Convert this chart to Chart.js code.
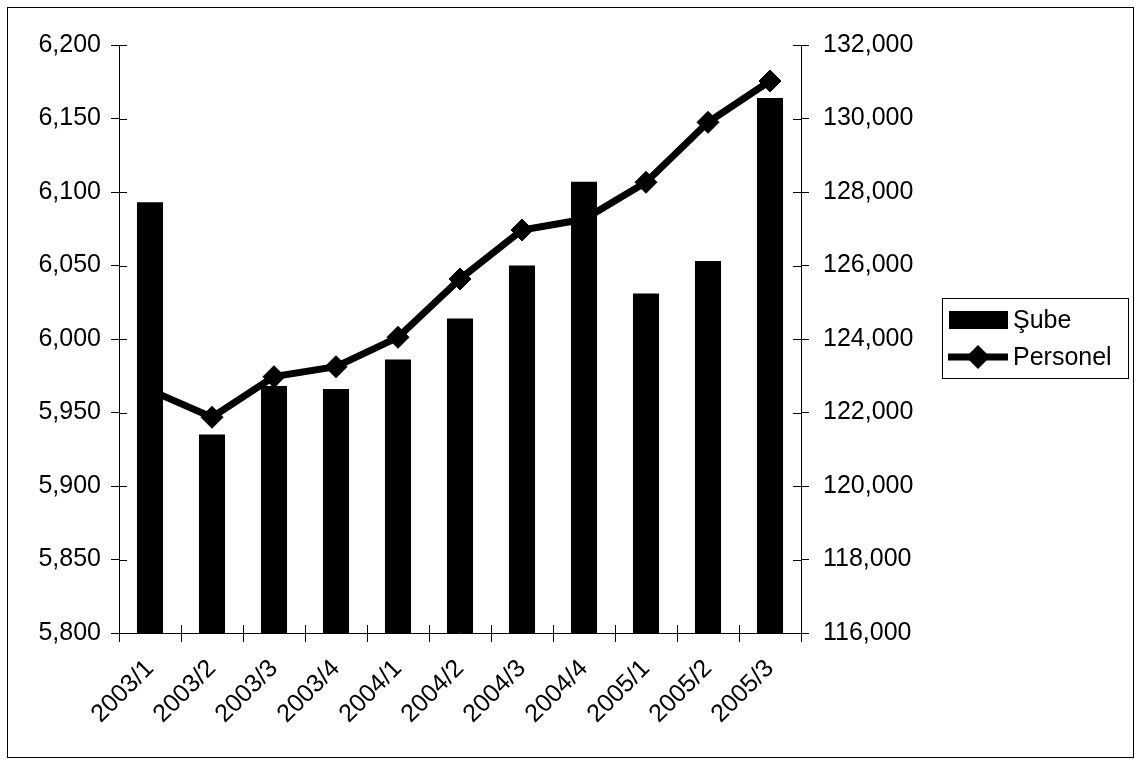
<!DOCTYPE html>
<html>
<head>
<meta charset="utf-8">
<script src="https://cdn.jsdelivr.net/npm/chart.js@4/dist/chart.umd.min.js"></script>
<style>
    body { margin: 0; background: #fff; }
    canvas { display: block; }
</style>
</head>
<body>
<canvas id="subeChart" width="1142" height="765"></canvas>
<script>
// Data
const quarters = ['2003/1', '2003/2', '2003/3', '2003/4', '2004/1', '2004/2', '2004/3', '2004/4', '2005/1', '2005/2', '2005/3'];
const subeCounts = [6093, 5935, 5968, 5966, 5986, 6014, 6050, 6107, 6031, 6053, 6164];
const personelCounts = [122610, 121870, 122975, 123246, 124046, 125633, 126966, 127257, 128264, 129896, 131020];
const legendLabels = ['Şube', 'Personel'];

const FONT = { family: "'Liberation Sans', Arial, sans-serif", size: 25 };

// frame, inner tick halves and the boxed legend
const extras = {
    id: 'extras',
    afterDraw(chart) {
        const ctx = chart.ctx;
        const area = chart.chartArea;
        ctx.save();
        ctx.strokeStyle = '#000';
        ctx.lineWidth = 1;

        // outer border
        ctx.strokeRect(7.5, 7.5, 1126, 750);

        // tick marks crossing into the plot
        ctx.beginPath();
        chart.scales.y.ticks.forEach((t, i) => {
            const py = Math.round(chart.scales.y.getPixelForTick(i)) + 0.5;
            ctx.moveTo(area.left, py); ctx.lineTo(area.left + 8, py);
        });
        chart.scales.y1.ticks.forEach((t, i) => {
            const py = Math.round(chart.scales.y1.getPixelForTick(i)) + 0.5;
            ctx.moveTo(area.right - 8, py); ctx.lineTo(area.right, py);
        });
        const step = (area.right - area.left) / quarters.length;
        for (let i = 0; i <= quarters.length; i++) {
            const px = Math.round(area.left + i * step) + 0.5;
            ctx.moveTo(px, area.bottom - 8); ctx.lineTo(px, area.bottom);
        }
        ctx.stroke();

        // legend
        ctx.strokeRect(942.5, 298.5, 186, 80);
        ctx.fillStyle = '#000';
        ctx.fillRect(949, 311, 59, 18);
        ctx.lineWidth = 7;
        ctx.beginPath();
        ctx.moveTo(948, 357); ctx.lineTo(1008, 357);
        ctx.stroke();
        ctx.beginPath();
        ctx.moveTo(978, 345); ctx.lineTo(990, 357); ctx.lineTo(978, 369); ctx.lineTo(966, 357);
        ctx.closePath();
        ctx.fill();
        ctx.font = FONT.size + 'px ' + FONT.family;
        ctx.textBaseline = 'middle';
        ctx.fillText(legendLabels[0], 1013, 321);
        ctx.fillText(legendLabels[1], 1013, 358);
        ctx.restore();
    }
};

const ctx = document.getElementById('subeChart').getContext('2d');
new Chart(ctx, {
    type: 'bar',
    data: {
        labels: quarters,
        datasets: [
            {
                label: legendLabels[0],
                data: subeCounts,
                yAxisID: 'y',
                backgroundColor: '#000',
                borderWidth: 0,
                categoryPercentage: 1,
                barPercentage: 0.42,
                order: 1
            },
            {
                type: 'line',
                label: legendLabels[1],
                data: personelCounts,
                yAxisID: 'y1',
                borderColor: '#000',
                backgroundColor: '#000',
                borderWidth: 7,
                pointStyle: 'rectRot',
                pointRadius: 11,
                pointBorderWidth: 1,
                tension: 0,
                order: 2
            }
        ]
    },
    options: {
        responsive: false,
        animation: false,
        layout: { padding: { left: 0, top: 45, right: 221, bottom: 0 } },
        plugins: {
            legend: { display: false },
            tooltip: { enabled: false }
        },
        scales: {
            x: {
                grid: { offset: true, drawOnChartArea: false, tickLength: 9, color: '#000' },
                border: { color: '#000' },
                ticks: { color: '#000', font: FONT, maxRotation: 45, minRotation: 45, padding: 12 },
                afterFit: s => { s.height = 132; }
            },
            y: {
                position: 'left',
                min: 5800,
                max: 6200,
                grid: { drawOnChartArea: false, tickLength: 8, color: '#000' },
                border: { color: '#000' },
                ticks: {
                    stepSize: 50,
                    color: '#000',
                    font: FONT,
                    padding: 10,
                    callback: v => v.toLocaleString('en-US')
                },
                afterFit: s => { s.width = 119; }
            },
            y1: {
                position: 'right',
                min: 116000,
                max: 132000,
                grid: { drawOnChartArea: false, tickLength: 8, color: '#000' },
                border: { color: '#000' },
                ticks: {
                    stepSize: 2000,
                    color: '#000',
                    font: FONT,
                    padding: 14,
                    callback: v => v.toLocaleString('en-US')
                },
                afterFit: s => { s.width = 120; }
            }
        }
    },
    plugins: [extras]
});
</script>
</body>
</html>
